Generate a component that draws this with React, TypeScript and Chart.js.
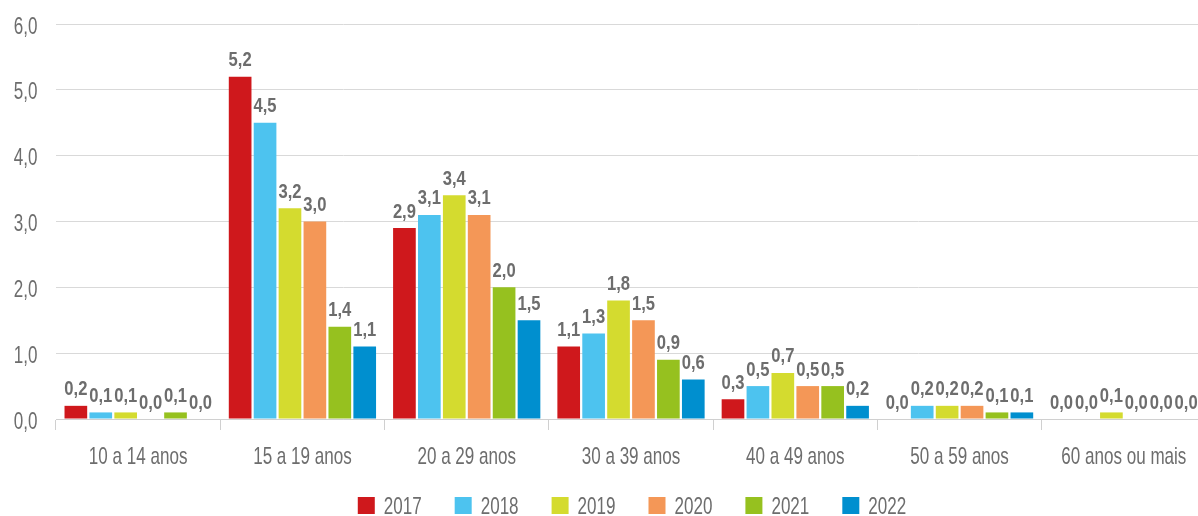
import React, { useEffect, useRef } from "react";
import { Chart, registerables } from "chart.js";

Chart.register(...registerables);

const categories = [
  "10 a 14 anos",
  "15 a 19 anos",
  "20 a 29 anos",
  "30 a 39 anos",
  "40 a 49 anos",
  "50 a 59 anos",
  "60 anos ou mais",
];

const years = ["2017", "2018", "2019", "2020", "2021", "2022"];

const values2017 = [0.2, 5.2, 2.9, 1.1, 0.3, 0.0, 0.0];
const values2018 = [0.1, 4.5, 3.1, 1.3, 0.5, 0.2, 0.0];
const values2019 = [0.1, 3.2, 3.4, 1.8, 0.7, 0.2, 0.1];
const values2020 = [0.0, 3.0, 3.1, 1.5, 0.5, 0.2, 0.0];
const values2021 = [0.1, 1.4, 2.0, 0.9, 0.5, 0.1, 0.0];
const values2022 = [0.0, 1.1, 1.5, 0.6, 0.2, 0.1, 0.0];

const yTicks = [0, 1, 2, 3, 4, 5, 6];

const seriesValues = [values2017, values2018, values2019, values2020, values2021, values2022];
const colors = ["#CF181C", "#4DC3EF", "#D4DB2F", "#F49757", "#96C11F", "#008FCF"];

const FAMILY = "'Liberation Sans', Arial, sans-serif";
const TEXT = "#6d6d6d";
const K = 0.71; // horizontal condensing of the regular text
const KB = 0.83; // horizontal condensing of the bold value labels

const fmt = (v: number) => v.toFixed(1).replace(".", ",");

function drawText(
  ctx: CanvasRenderingContext2D,
  text: string,
  x: number,
  y: number,
  font: string,
  k: number,
  align: "left" | "center" | "right"
) {
  ctx.save();
  ctx.font = font;
  const w = ctx.measureText(text).width * k;
  const left = align === "center" ? x - w / 2 : align === "right" ? x - w : x;
  ctx.translate(left, y);
  ctx.scale(k, 1);
  ctx.textAlign = "left";
  ctx.textBaseline = "alphabetic";
  ctx.fillStyle = TEXT;
  ctx.fillText(text, 0, 0);
  ctx.restore();
  return w;
}

const textPlugin = {
  id: "condensedText",
  afterDraw(chart: any) {
    const ctx: CanvasRenderingContext2D = chart.ctx;
    const area = chart.chartArea;
    const xs = chart.scales.x;
    const ys = chart.scales.y;
    const regular = `24px ${FAMILY}`;

    // y tick labels
    yTicks.forEach((v) => {
      const py = ys.getPixelForValue(v);
      drawText(ctx, fmt(v), area.left - 18.5, py + 9.5, regular, K, "right");
    });

    // x category labels
    categories.forEach((c, i) => {
      const px = xs.getPixelForValue(i);
      drawText(ctx, c, px, area.bottom + 45, regular, K, "center");
    });

    // value labels
    const bold = `bold 20px ${FAMILY}`;
    chart.data.datasets.forEach((ds: any, i: number) => {
      const meta = chart.getDatasetMeta(i);
      meta.data.forEach((el: any, j: number) => {
        drawText(ctx, fmt(ds.data[j]), el.x, el.y - 10.5, bold, KB, "center");
      });
    });

    // legend
    const box = 17;
    const gap = 9;
    const spacing = 33;
    ctx.save();
    ctx.font = regular;
    const widths = years.map((y) => ctx.measureText(y).width * K);
    ctx.restore();
    const total =
      widths.reduce((a, w) => a + box + gap + w, 0) + spacing * (years.length - 1);
    let lx = (area.left + area.right) / 2 - total / 2 + 1;
    const boxTop = area.bottom + 78;
    years.forEach((y, i) => {
      ctx.save();
      ctx.fillStyle = colors[i];
      ctx.fillRect(lx, boxTop, box, box);
      ctx.restore();
      drawText(ctx, y, lx + box + gap, boxTop + 16.5, regular, K, "left");
      lx += box + gap + widths[i] + spacing;
    });
  },
};

export default function App() {
  const ref = useRef<HTMLCanvasElement>(null);
  useEffect(() => {
    if (!ref.current) return;
    const chart = new Chart(ref.current, {
      type: "bar",
      data: {
        labels: categories,
        datasets: years.map((y, i) => ({
          label: y,
          data: seriesValues[i],
          backgroundColor: colors[i],
          categoryPercentage: 0.91,
          barPercentage: 0.91,
        })),
      },
      options: {
        animation: false,
        responsive: false,
        layout: { padding: { top: 24, right: 59, left: 56, bottom: 86 } },
        plugins: {
          legend: { display: false },
          tooltip: { enabled: false },
        },
        scales: {
          x: {
            grid: {
              display: true,
              drawOnChartArea: false,
              drawTicks: true,
              tickLength: 11,
              color: "#d0d0d0",
              offset: true,
            },
            border: { display: true, color: "#d0d0d0", width: 1 },
            ticks: { display: false },
          },
          y: {
            min: 0,
            max: 6,
            ticks: { display: false, stepSize: 1 },
            grid: { color: "#d9d9d9", drawTicks: false, lineWidth: 1 },
            border: { display: false },
          },
        },
      },
      plugins: [textPlugin],
    });
    return () => chart.destroy();
  }, []);
  return (
    <div
      style={{
        position: "fixed",
        left: 0,
        top: 0,
        width: 1198,
        height: 516,
        overflow: "hidden",
        background: "#fff",
      }}
    >
      <canvas ref={ref} width={1265} height={516} style={{ width: 1265, height: 516, display: "block" }} />
    </div>
  );
}
